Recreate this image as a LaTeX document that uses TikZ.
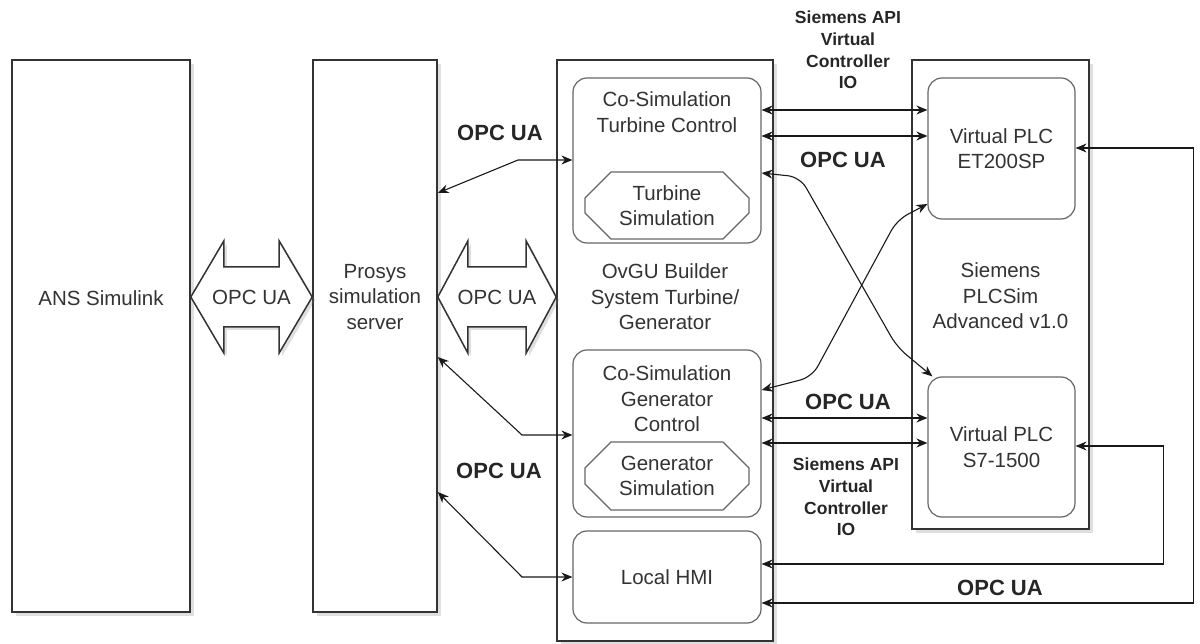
\documentclass[tikz,border=0pt]{standalone}
\usepackage{fontspec}
\setmainfont{Liberation Sans}
\usetikzlibrary{arrows.meta,shapes.misc,shadows,calc}

\begin{document}
\begin{tikzpicture}[x=1pt, y=-1pt,
  outer/.style={draw=black!80, line width=1.6pt, fill=white, inner sep=0pt,
    drop shadow={shadow xshift=4pt, shadow yshift=-4pt, opacity=0.25}},
  inner/.style={draw=black!60, line width=1.2pt, rounded corners=14pt, fill=white, inner sep=0pt,
    align=center, font=\fontsize{20.5}{25.5}\selectfont, text=black!80},
  simbox/.style={inner, rounded corners=0pt, chamfered rectangle, chamfered rectangle xsep=13pt,
    chamfered rectangle ysep=13pt},
  txt/.style={align=center, inner sep=0pt, font=\fontsize{20.5}{25.5}\selectfont, text=black!80},
  lbl/.style={align=center, inner sep=0pt, font=\fontsize{22}{26}\selectfont\bfseries, text=black!85},
  api/.style={align=center, inner sep=0pt, font=\fontsize{17.5}{21.8}\selectfont\bfseries, text=black!85},
  fatarr/.style={draw=black!80, line width=1.5pt, fill=white, line join=miter,
    drop shadow={shadow xshift=3pt, shadow yshift=-3pt, opacity=0.25}},
  biarr/.style={{Stealth[length=11pt,width=9pt]}-{Stealth[length=11pt,width=9pt]}, line width=1.1pt, black!90},
  crossarr/.style={biarr, rounded corners=12pt}]
\useasboundingbox (0,0) rectangle (1200,644);

% outer blocks
\node[outer, minimum width=178, minimum height=552] (ans) at (101,336) {};
\node[outer, minimum width=124, minimum height=552] (prosys) at (375,336) {};
\node[outer, minimum width=216, minimum height=581] (ovgu) at (665,350.5) {};
\node[outer, minimum width=177, minimum height=469] (siem) at (1000.5,294.5) {};
\node[txt] (ansT) at (101,298) {ANS Simulink};
\node[txt] (prosysT) at (375,297) {Prosys\\simulation\\server};
\node[txt] (ovguT) at (665,297) {OvGU Builder\\System Turbine/\\Generator};
\node[txt] (siemT) at (1000.5,296) {Siemens\\PLCSim\\Advanced v1.0};

% fat OPC UA arrows
\coordinate (l1) at (ans.east |- 0,297);
\coordinate (r1) at (prosys.west |- 0,297);
\draw[fatarr] (l1) -- ++(33,-56) -- ++(0,26) -- ($(r1)+(-33,-30)$) -- ++(0,-26) -- (r1)
  -- ++(-33,56) -- ++(0,-26) -- ($(l1)+(33,30)$) -- ++(0,26) -- cycle;
\node[txt] (opc1) at ($(l1)!0.5!(r1)$) {OPC UA};
\coordinate (l2) at (prosys.east |- 0,297);
\coordinate (r2) at (ovgu.west |- 0,297);
\draw[fatarr] (l2) -- ++(30,-56) -- ++(0,26) -- ($(r2)+(-30,-30)$) -- ++(0,-26) -- (r2)
  -- ++(-30,56) -- ++(0,-26) -- ($(l2)+(30,30)$) -- ++(0,26) -- cycle;
\node[txt] (opc2) at ($(l2)!0.5!(r2)$) {OPC UA};

% inner blocks
\node[inner, minimum width=188, minimum height=165] (tctl) at (667,160.5) {};
\node[txt] (tctlT) at (667,112) {Co-Simulation\\Turbine Control};
\node[simbox, minimum width=164, minimum height=67] (tsim) at (667,205.5) {Turbine\\Simulation};
\node[inner, minimum width=188, minimum height=167] (gctl) at (667,433.5) {};
\node[txt] (gctlT) at (667,399) {Co-Simulation\\Generator\\Control};
\node[simbox, minimum width=164, minimum height=68] (gsim) at (667,476) {Generator\\Simulation};
\node[inner, minimum width=188, minimum height=92] (hmi) at (667,577) {Local HMI};
\node[inner, minimum width=147, minimum height=141] (et) at (1001.5,148.5) {Virtual PLC\\ET200SP};
\node[inner, minimum width=147, minimum height=140] (s7) at (1001.5,447) {Virtual PLC\\S7-1500};

% connectors
\draw[biarr] (prosys.east |- 0,193) -- (518,160) -- (tctl.west |- 0,160);
\draw[biarr] (prosys.east |- 0,357) -- (522,435) -- (gctl.west |- 0,435);
\draw[biarr] (prosys.east |- 0,492) -- (522,577) -- (hmi.west);
\draw[biarr] (tctl.east |- 0,110) -- (et.west |- 0,110);
\draw[biarr] (tctl.east |- 0,136) -- (et.west |- 0,136);
\draw[crossarr] (tctl.east |- 0,173) -- (800,177) -- (897,347) -- ([xshift=5pt]s7.north west);
\draw[crossarr] (gctl.east |- 0,390) -- (812,377) -- (897,220) -- (et.west |- 0,204);
\draw[biarr] (gctl.east |- 0,418) -- (s7.west |- 0,418);
\draw[biarr] (gctl.east |- 0,443) -- (s7.west |- 0,443);
\draw[biarr] (s7.east |- 0,446) -- ++(88,0) |- (hmi.east |- 0,564);
\draw[biarr] (et.east |- 0,148) -- ++(118,0) |- (hmi.east |- 0,603);

% labels
\node[lbl] (opcT) at (500,133) {OPC UA};
\node[lbl] (opcH) at (499,471) {OPC UA};
\node[api] (apiT) at (848,50) {Siemens API\\Virtual\\Controller\\IO};
\node[lbl] (opcE) at (843,160) {OPC UA};
\node[lbl] (opcS) at (848,402) {OPC UA};
\node[api] (apiS) at (846,497) {Siemens API\\Virtual\\Controller\\IO};
\node[lbl] (opcL) at (1000,588) {OPC UA};
\end{tikzpicture}
\end{document}
